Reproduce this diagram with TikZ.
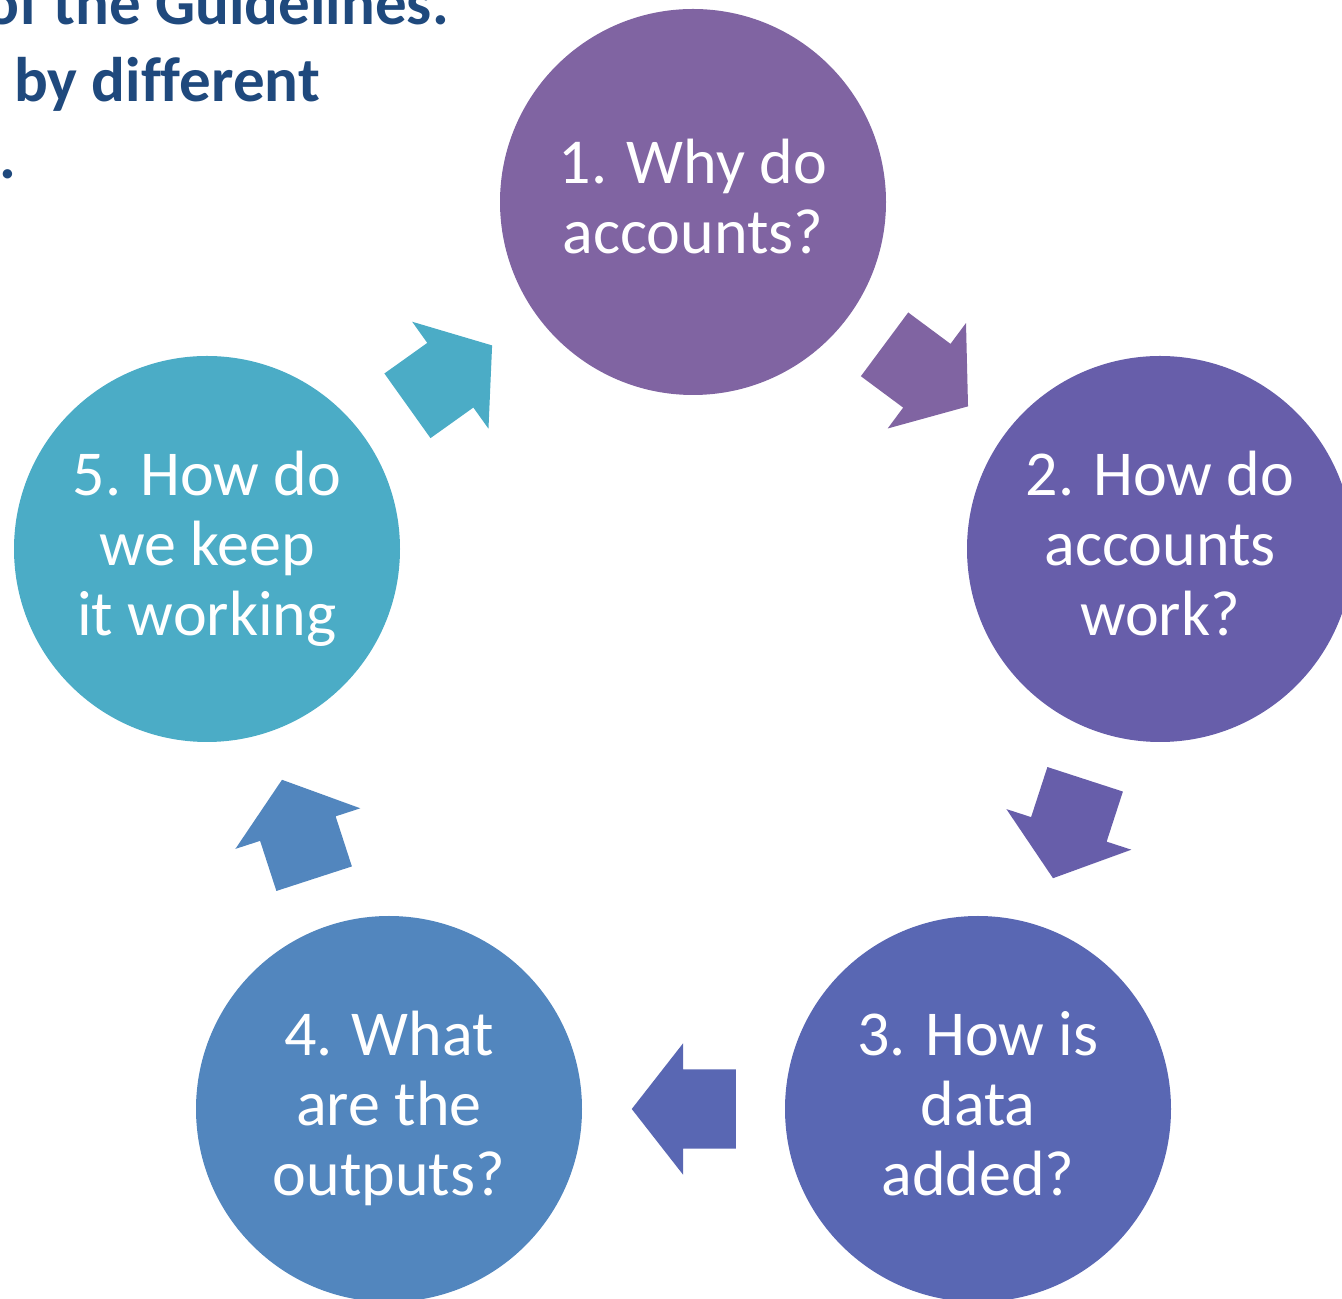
\documentclass[tikz,border=0pt]{standalone}
\usepackage{fontspec}
\setmainfont{Carlito}[Ligatures=NoCommon]
\usepackage{tikz}
\usetikzlibrary{shapes.arrows,calc}
\definecolor{TitleBlue}{HTML}{1F497D}
\definecolor{StepPurple}{HTML}{8064A2}
\definecolor{StepViolet}{HTML}{675EAA}
\definecolor{StepIndigo}{HTML}{5967B3}
\definecolor{StepBlue}{HTML}{5286BE}
\definecolor{StepAqua}{HTML}{4BACC6}
% keeps line spacing inside the circles even
\newcommand{\stagestrut}{\rule[-12pt]{0pt}{62pt}}

\begin{document}
\begin{tikzpicture}[
    x=1pt, y=1pt,
    stage/.style={circle, inner sep=0pt, minimum size=386pt, align=center, text=white,
        font=\fontsize{64}{70}\selectfont,
        execute at begin node=\stagestrut, execute at end node=\stagestrut},
    cyclearr/.style={single arrow, inner sep=0pt, text height=39.5pt, text depth=39.5pt,
        minimum height=104pt, single arrow head extend=26pt, single arrow tip angle=104,
        anchor=tip},
    intro/.style={inner sep=0pt, text=TitleBlue, font=\fontsize{63}{77}\selectfont\bfseries}
]
\useasboundingbox (0,0) rectangle (1342,1299);
\clip (0,0) rectangle (1342,1299);
% text coming in from the left
\node[intro, anchor=base east] (intro1) at (449,1274) {of the Guidelines.};
\node[intro, anchor=base west] (intro2) at (14,1197) {by different};
\node[intro, anchor=base west] (intro3) at (-1,1120) {.};
% the five questions
\node[stage, fill=StepPurple] (why) at (693,1097) {1. Why do\\accounts?};
\node[stage, fill=StepViolet] (work) at (1160,750) {2. How do\\accounts\\work?};
\node[stage, fill=StepIndigo] (added) at (978,190) {3. How is\\data\\added?};
\node[stage, fill=StepBlue] (outputs) at (389,190) {4. What\\are the\\outputs?};
\node[stage, fill=StepAqua] (keep) at (207,750) {5. How do\\we keep\\it working};
% block arrows round the cycle, tip 52pt past the midpoint
\node[cyclearr, fill=StepPurple, rotate=-36.6] (a12) at ($(why)!0.5!(work)!52pt!(work)$) {};
\node[cyclearr, fill=StepViolet, rotate=-108] (a23) at ($(work)!0.5!(added)!52pt!(added)$) {};
\node[cyclearr, fill=StepIndigo, rotate=180] (a34) at ($(added)!0.5!(outputs)!52pt!(outputs)$) {};
\node[cyclearr, fill=StepBlue, rotate=108] (a45) at ($(outputs)!0.5!(keep)!52pt!(keep)$) {};
\node[cyclearr, fill=StepAqua, rotate=35.5] (a51) at ($(keep)!0.5!(why)!52pt!(why)$) {};
\end{tikzpicture}
\end{document}
